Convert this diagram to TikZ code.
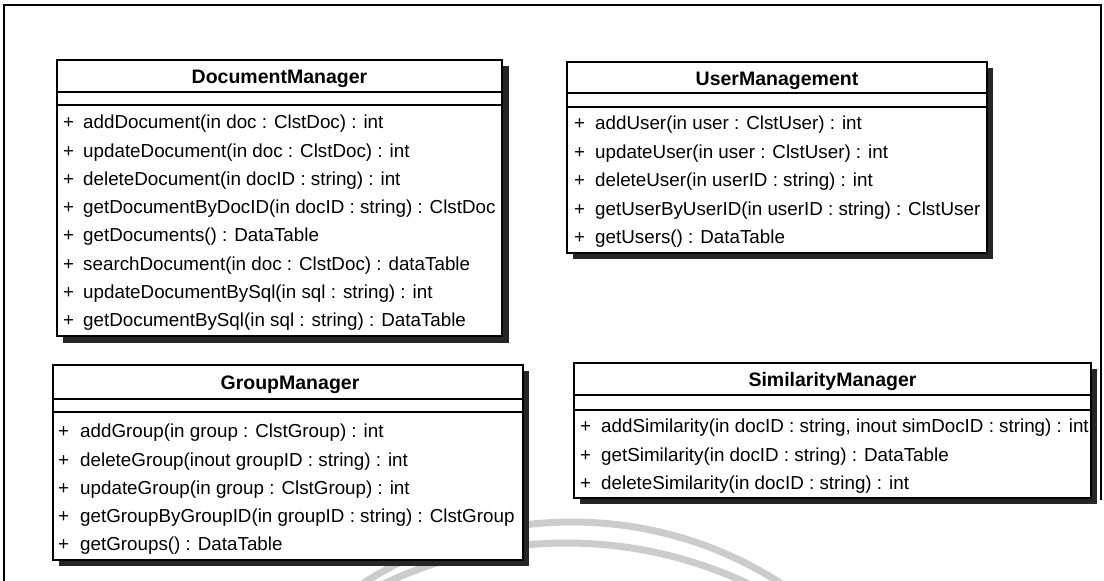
\documentclass[tikz,border=0pt]{standalone}
\usepackage{fontspec}
\setmainfont{Liberation Sans}
\begin{document}
\begin{tikzpicture}[x=1pt,y=-1pt,
  frame/.style={draw=black, line width=1.5pt},
  wmarc/.style={draw=black!20, line width=7pt},
  shadowbox/.style={fill=black!85, draw=none},
  classbox/.style={draw=black, fill=white, line width=1.8pt},
  divider/.style={draw=black, line width=1.8pt},
  title/.style={font=\fontsize{19.5}{20}\selectfont\bfseries, inner sep=0pt, text height=14pt, text depth=0pt},
  vis/.style={font=\fontsize{18.8}{20}\selectfont, anchor=west, inner sep=0pt, text height=13.4pt, text depth=0pt},
  op/.style={font=\fontsize{18.8}{20}\selectfont, anchor=west, inner sep=0pt, text height=13.4pt, text depth=0pt}]
\useasboundingbox (0,0) rectangle (1104,581);

% faint background arcs
\begin{scope}
  \clip (0,0) rectangle (1104,581);
  \draw[wmarc] (572,908) circle[radius=386];
  \draw[wmarc] (566,969.6) circle[radius=426.6];
\end{scope}

% page frame
\draw[frame] (4,581) -- (4,5) -- (1101,5) -- (1101,500);

% ---------- DocumentManager ----------
\fill[shadowbox] (63,66) rectangle (509,343);
\draw[classbox] (57,60) rectangle (502,336);
\draw[divider] (57,92) -- (502,92);
\draw[divider] (57,105) -- (502,105);
\node[title] (dm) at (279.5,76) {DocumentManager};
\foreach \t [count=\i] in {
  {addDocument(in doc : ClstDoc) : int},
  {updateDocument(in doc : ClstDoc) : int},
  {deleteDocument(in docID : string) : int},
  {getDocumentByDocID(in docID : string) : ClstDoc},
  {getDocuments() : DataTable},
  {searchDocument(in doc : ClstDoc) : dataTable},
  {updateDocumentBySql(in sql : string) : int},
  {getDocumentBySql(in sql : string) : DataTable}}{
  \node[vis] (dm-v\i) at (63,{122+28.3*(\i-1)}) {+};
  \node[op] (dm-\i) at (83,{122+28.3*(\i-1)}) {\t};
}

% ---------- UserManagement ----------
\fill[shadowbox] (573,68) rectangle (993,259);
\draw[classbox] (567,62) rectangle (987,253);
\draw[divider] (567,93) -- (987,93);
\draw[divider] (567,107) -- (987,107);
\node[title] (um) at (777,78) {UserManagement};
\foreach \t [count=\i] in {
  {addUser(in user : ClstUser) : int},
  {updateUser(in user : ClstUser) : int},
  {deleteUser(in userID : string) : int},
  {getUserByUserID(in userID : string) : ClstUser},
  {getUsers() : DataTable}}{
  \node[vis] (um-v\i) at (574,{123+28.5*(\i-1)}) {+};
  \node[op] (um-\i) at (595,{123+28.5*(\i-1)}) {\t};
}

% ---------- GroupManager ----------
\fill[shadowbox] (59,371) rectangle (529,566);
\draw[classbox] (53,365) rectangle (523,560);
\draw[divider] (53,399) -- (523,399);
\draw[divider] (53,412) -- (523,412);
\node[title] (gm) at (290,382) {GroupManager};
\foreach \t [count=\i] in {
  {addGroup(in group : ClstGroup) : int},
  {deleteGroup(inout groupID : string) : int},
  {updateGroup(in group : ClstGroup) : int},
  {getGroupByGroupID(in groupID : string) : ClstGroup},
  {getGroups() : DataTable}}{
  \node[vis] (gm-v\i) at (58,{431+28.3*(\i-1)}) {+};
  \node[op] (gm-\i) at (80,{431+28.3*(\i-1)}) {\t};
}

% ---------- SimilarityManager ----------
\fill[shadowbox] (580,369) rectangle (1097,504);
\draw[classbox] (574,363) rectangle (1091,498);
\draw[divider] (574,395) -- (1091,395);
\draw[divider] (574,410) -- (1091,410);
\node[title] (sm) at (832.5,379) {SimilarityManager};
\foreach \t [count=\i] in {
  {addSimilarity(in docID : string, inout simDocID : string) : int},
  {getSimilarity(in docID : string) : DataTable},
  {deleteSimilarity(in docID : string) : int}}{
  \node[vis] (sm-v\i) at (580,{426+28.5*(\i-1)}) {+};
  \node[op] (sm-\i) at (601,{426+28.5*(\i-1)}) {\t};
}
\end{tikzpicture}
\end{document}
